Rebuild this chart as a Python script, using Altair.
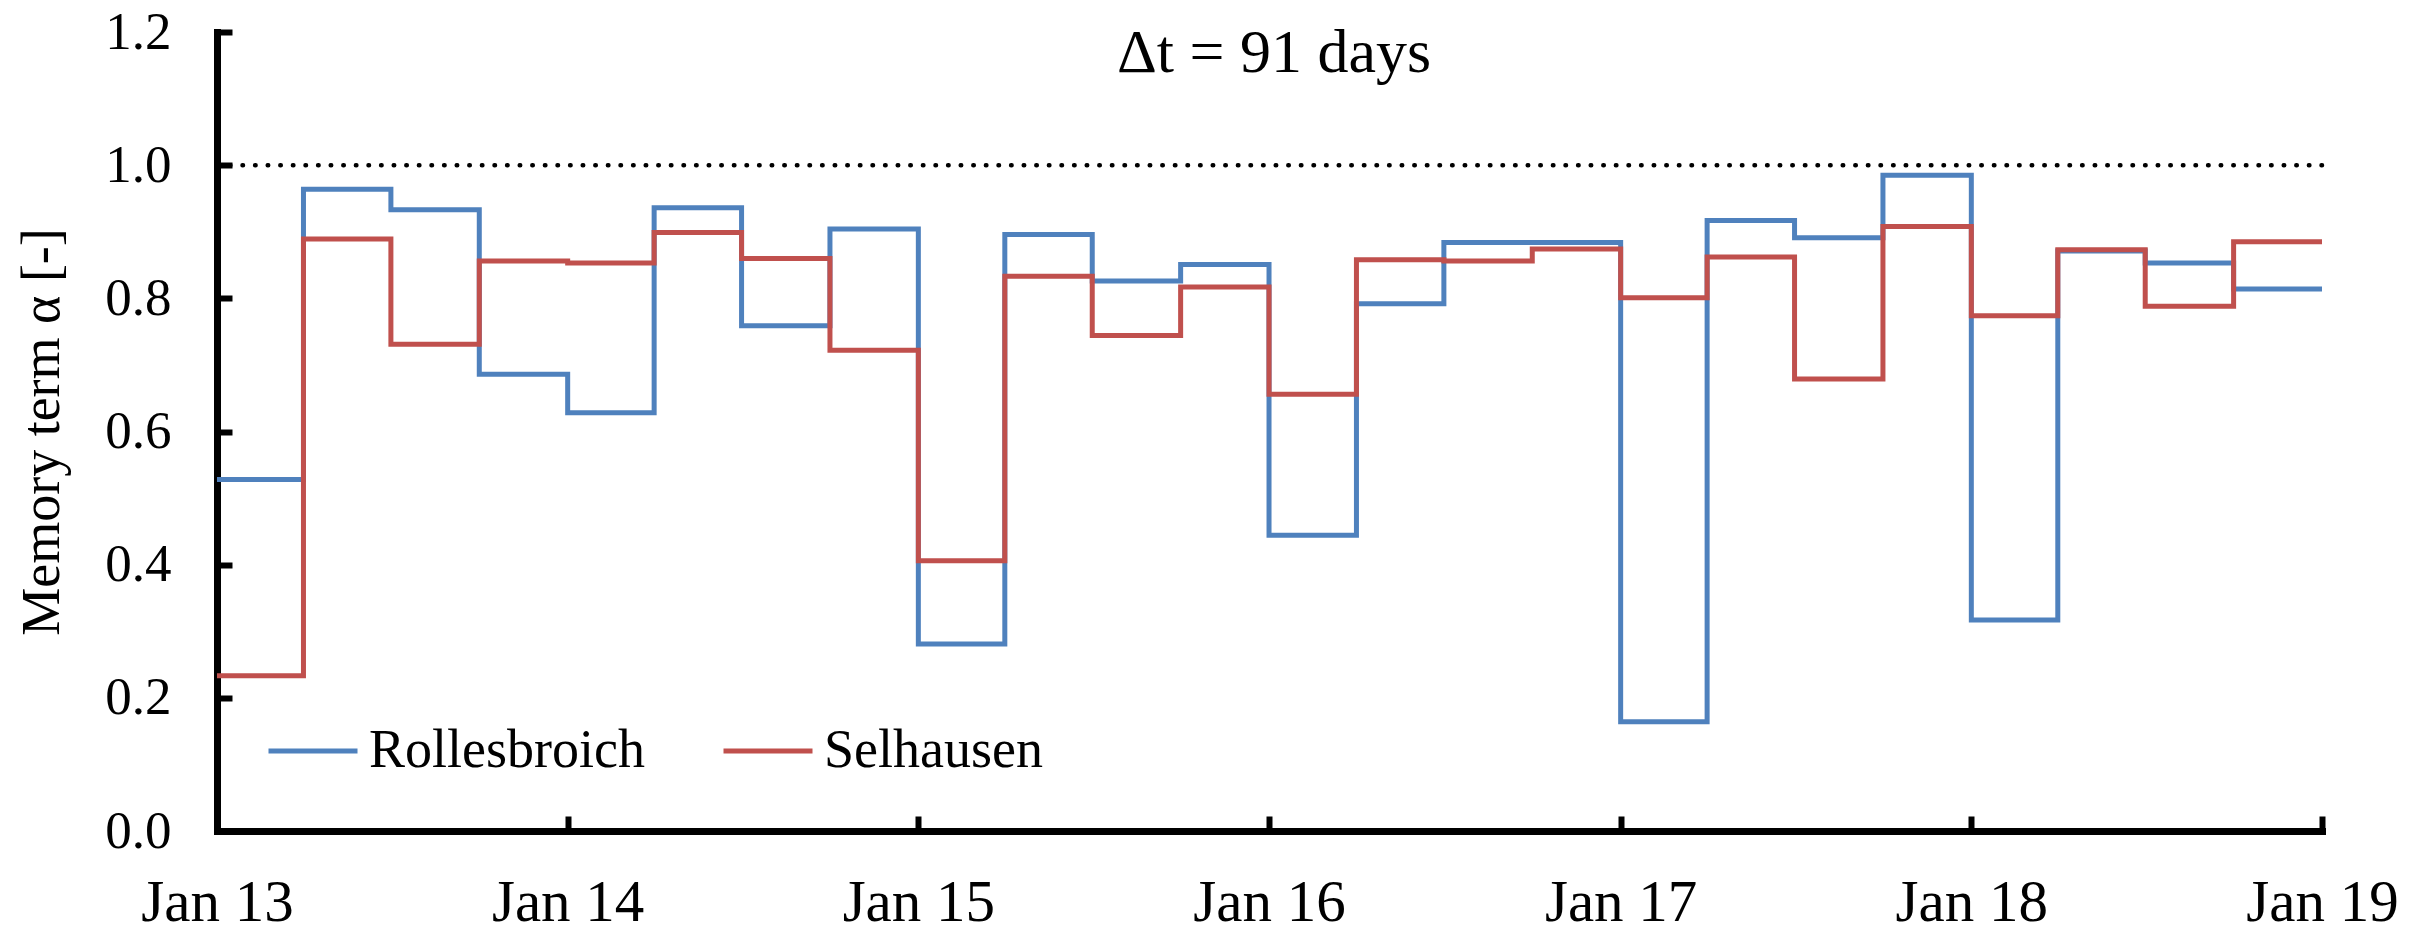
import altair as alt
import pandas as pd

# ---- data ----
years = [2013, 2014, 2015, 2016, 2017, 2018]
quarter_months = [1, 4, 7, 10]
quarter_starts = [f"{y}-{m:02d}-01" for y in years for m in quarter_months]
period_end = "2019-01-01"

rollesbroich = [0.528, 0.964, 0.933, 0.686,
                0.628, 0.936, 0.759, 0.904,
                0.281, 0.896, 0.826, 0.851,
                0.444, 0.792, 0.884, 0.884,
                0.164, 0.917, 0.891, 0.985,
                0.317, 0.871, 0.853, 0.814]
selhausen = [0.233, 0.889, 0.731, 0.856,
             0.853, 0.899, 0.860, 0.722,
             0.406, 0.833, 0.744, 0.817,
             0.656, 0.858, 0.856, 0.874,
             0.801, 0.862, 0.679, 0.908,
             0.774, 0.873, 0.788, 0.885]

sites = ["Rollesbroich", "Selhausen"]
site_colors = ["#4F81BD", "#C0504D"]
reference_alpha = [1.0]
x_tick_years = [2013, 2014, 2015, 2016, 2017, 2018, 2019]
y_ticks = [0.0, 0.2, 0.4, 0.6, 0.8, 1.0, 1.2]
title_text = "\u0394t = 91 days"
y_title = "Memory term \u03b1 [-]"

rows = []
for site, vals in zip(sites, [rollesbroich, selhausen]):
    for d, v in zip(quarter_starts, vals):
        rows.append({"date": d, "alpha": v, "site": site})
    rows.append({"date": period_end, "alpha": vals[-1], "site": site})
df = pd.DataFrame(rows)

serif = "Liberation Serif"
W, H = 2105, 799
TICK = 15

x_enc = alt.X(
    "date:T",
    scale=alt.Scale(
        type="utc",
        domain=[alt.DateTime(year=2013, month=1, date=1, utc=True),
                alt.DateTime(year=2019, month=1, date=1, utc=True)],
    ),
    axis=alt.Axis(
        title=None,
        values=[alt.DateTime(year=y, month=1, date=1, utc=True) for y in x_tick_years],
        format="%b %y",
        labelFont=serif, labelFontSize=59, labelColor="black",
        labelPadding=89, labelBaseline="alphabetic",
        labelFlush=False, labelOverlap=False,
        ticks=False,
        domainColor="black", domainWidth=7, domainCap="square",
        grid=True, gridColor="black", gridWidth=6,
        gridDash=[TICK, H - TICK], gridDashOffset=TICK,
    ),
)

y_enc = alt.Y(
    "alpha:Q",
    scale=alt.Scale(domain=[0, 1.2], nice=False),
    axis=alt.Axis(
        title=y_title,
        values=y_ticks, format=".1f",
        labelFont=serif, labelFontSize=53, labelColor="black", labelPadding=46,
        ticks=False,
        domainColor="black", domainWidth=7, domainCap="square",
        grid=True, gridColor="black", gridWidth=6, gridDash=[TICK, 4000],
        titleFont=serif, titleFontSize=54, titleFontWeight="normal",
        titleColor="black", titleX=-148, titleBaseline="bottom",
    ),
)

lines = alt.Chart(df).mark_line(
    interpolate="step-after", strokeWidth=5, strokeJoin="miter"
).encode(
    x=x_enc,
    y=y_enc,
    color=alt.Color(
        "site:N",
        scale=alt.Scale(domain=sites, range=site_colors),
        legend=alt.Legend(
            title=None, orient="none", legendX=49, legendY=672,
            direction="horizontal", symbolType="stroke",
            symbolSize=7921, symbolStrokeWidth=5,
            labelFont=serif, labelFontSize=54, labelColor="black",
            labelLimit=1000, labelOffset=9, columnPadding=68, padding=0,
        ),
    ),
)

ref = alt.Chart(pd.DataFrame({"alpha": reference_alpha})).mark_rule(
    color="black", strokeWidth=4.5, strokeDash=[0.5, 12.1], strokeCap="round"
).encode(y=alt.Y("alpha:Q"))

title = alt.Chart(pd.DataFrame({"t": [title_text]})).mark_text(
    font=serif, fontSize=62, color="black", baseline="alphabetic", align="center"
).encode(text="t:N", x=alt.value(1057), y=alt.value(40))

chart = alt.layer(ref, lines, title).properties(
    width=W, height=H,
    autosize=alt.AutoSizeParams(type="none"),
    padding={"left": 209, "top": 24, "right": 82, "bottom": 104},
).configure_view(stroke=None)

chart.save("out.html", embed_options={"renderer": "svg", "actions": False})
